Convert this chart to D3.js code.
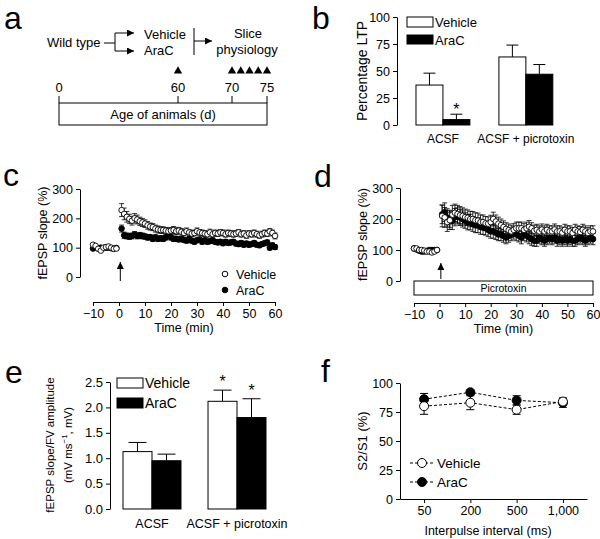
<!DOCTYPE html>
<html><head><meta charset="utf-8">
<script src="https://cdn.jsdelivr.net/npm/d3@7"></script>
<style>body{margin:0;background:#fff}svg{display:block;font-family:"Liberation Sans",Arial,Helvetica,sans-serif}</style>
</head><body><svg id="fig" width="600" height="539"></svg>
<script>
// ---------- DATA ----------
// panel a
const ageTicks = [0, 60, 70, 75];
const injectionDays = [60];
const recordingDays = [70, 71.25, 72.5, 73.75, 75];
// panel b
const groupsB = ["ACSF", "ACSF + picrotoxin"];
const seriesNames = ["Vehicle", "AraC"];
const ltpVehicle = [37, 63];
const ltpVehicleErr = [11, 11];
const ltpAraC = [5, 47];
const ltpAraCErr = [5, 9];
const ltpTicks = [0, 25, 50, 75, 100];
// panel c (ACSF)
const baseTimes = [-10, -9, -8, -7, -6, -5, -4, -3, -2, -1];
const postTimes = d3.range(1, 61);
const cVehBase = [110, 106, 96, 90, 100, 102, 104, 100, 96, 97];
const cAraBase = [97, 100, 98, 100, 98, 100, 100, 98, 97, 99];
const cVeh = [228, 215, 205, 198, 192, 200, 196, 190, 186, 182, 176, 172, 170, 165, 162, 160, 160, 158, 156, 158, 160, 156, 158, 154, 150, 156, 152, 148, 150, 156, 152, 150, 148, 146, 152, 146, 150, 148, 152, 150, 146, 150, 148, 146, 148, 152, 146, 148, 142, 148, 146, 150, 146, 142, 146, 150, 148, 155, 150, 140];
const cVehErr = [22, 20, 18, 16, 15, 16, 15, 14, 14, 13, 13, 12, 12, 12, 12, 11, 11, 11, 11, 11, 12, 11, 11, 11, 10, 11, 10, 10, 10, 11, 10, 10, 10, 10, 11, 10, 10, 10, 10, 10, 10, 10, 10, 10, 10, 10, 10, 10, 10, 10, 10, 10, 10, 10, 10, 10, 10, 10, 10, 10];
const cAra = [165, 142, 140, 138, 140, 145, 140, 142, 140, 138, 135, 136, 130, 135, 130, 132, 130, 135, 140, 135, 130, 130, 128, 130, 126, 124, 130, 124, 120, 125, 128, 120, 125, 120, 122, 125, 120, 118, 120, 115, 120, 116, 118, 120, 114, 112, 116, 110, 114, 110, 112, 116, 110, 108, 112, 115, 118, 100, 108, 102];
const cAraErr = [12, 11, 10, 10, 10, 10, 10, 10, 10, 9, 9, 9, 9, 9, 9, 9, 9, 9, 9, 9, 9, 9, 8, 8, 8, 8, 8, 8, 8, 8, 8, 8, 8, 8, 8, 8, 8, 8, 8, 8, 8, 8, 8, 8, 8, 8, 8, 8, 8, 8, 8, 8, 8, 8, 8, 8, 8, 8, 8, 8];
// panel d (picrotoxin)
const dVehBase = [105, 105, 100, 100, 98, 95, 95, 92, 95, 100];
const dAraBase = [105, 102, 98, 95, 95, 97, 100, 100, 100, 100];
const dVeh = [210, 205, 190, 196, 214, 220, 216, 212, 210, 206, 204, 200, 200, 196, 195, 190, 190, 186, 185, 190, 200, 192, 185, 180, 174, 168, 164, 160, 165, 170, 170, 170, 165, 170, 175, 170, 162, 165, 160, 166, 160, 165, 160, 160, 166, 160, 160, 156, 165, 160, 160, 155, 165, 160, 158, 165, 160, 155, 160, 160];
const dVehErr = [35, 32, 30, 30, 30, 28, 28, 28, 26, 26, 25, 25, 24, 24, 24, 23, 23, 22, 22, 22, 22, 21, 21, 20, 20, 20, 20, 20, 20, 20, 20, 20, 20, 20, 20, 18, 18, 18, 18, 18, 18, 18, 18, 18, 18, 18, 18, 18, 18, 18, 18, 18, 18, 18, 18, 18, 18, 18, 18, 18];
const dAra = [215, 222, 205, 200, 194, 206, 210, 205, 200, 195, 190, 190, 184, 180, 180, 175, 172, 170, 165, 160, 160, 156, 150, 150, 145, 140, 145, 150, 155, 150, 146, 140, 150, 146, 140, 135, 130, 130, 140, 135, 130, 135, 140, 135, 140, 130, 135, 130, 135, 130, 135, 130, 130, 135, 140, 135, 130, 135, 140, 135];
const dAraErr = [30, 30, 28, 28, 28, 28, 26, 26, 26, 25, 25, 25, 24, 24, 24, 24, 22, 22, 22, 22, 22, 22, 20, 20, 20, 20, 20, 20, 20, 20, 20, 20, 20, 20, 20, 20, 18, 18, 18, 18, 18, 18, 18, 18, 18, 18, 18, 18, 18, 18, 18, 18, 18, 18, 18, 18, 18, 18, 18, 18];
const slopeTicks = [0, 100, 200, 300];
const timeTicks = [-10, 0, 10, 20, 30, 40, 50, 60];
// panel e
const groupsE = ["ACSF", "ACSF + picrotoxin"];
const ratioVehicle = [1.13, 2.12];
const ratioVehicleErr = [0.18, 0.22];
const ratioAraC = [0.95, 1.8];
const ratioAraCErr = [0.13, 0.37];
const ratioTicks = [0, 0.5, 1, 1.5, 2, 2.5];
// panel f
const intervals = ["50", "200", "500", "1,000"];
const ppfVehicle = [80, 83, 77, 84];
const ppfVehicleErr = [7, 6, 4, 3];
const ppfAraC = [86, 92, 85, 83];
const ppfAraCErr = [5, 2, 4, 4];
const ppfTicks = [0, 25, 50, 75, 100];

// ---------- DRAW ----------
const svg = d3.select("#fig");
svg.append("rect").attr("width", 600).attr("height", 539).attr("fill", "#fff");
const defs = svg.append("defs");
defs.append("marker").attr("id", "ah").attr("viewBox", "0 0 8 8").attr("refX", 8).attr("refY", 4)
  .attr("markerWidth", 7).attr("markerHeight", 7).attr("markerUnits", "userSpaceOnUse").attr("orient", "auto")
  .append("path").attr("d", "M0,0L8,4L0,8Z").attr("fill", "#000");

function txt(x, y, s, fs, anchor, g) {
  return (g || svg).append("text").attr("x", x).attr("y", y).attr("font-size", fs)
    .attr("text-anchor", anchor || "start").attr("fill", "#000").text(s);
}
function letter(t, x, y) { txt(x, y, t, 32); }
function style(g, fs) {
  g.attr("font-family", null).attr("font-size", fs);
  g.selectAll("text").attr("fill", "#000");
  g.select(".domain").attr("stroke", "#000").attr("stroke-width", 1);
  g.selectAll(".tick line").attr("stroke", "#000");
  return g;
}
function ytitle(x, y, s, fs) {
  svg.append("text").attr("transform", `translate(${x},${y}) rotate(-90)`).attr("text-anchor", "middle")
    .attr("font-size", fs).attr("fill", "#000").text(s);
}
const minus = d => d < 0 ? "\u2212" + Math.abs(d) : String(d);

// ===== panel a =====
letter("a", 4, 29);
const ageX = d3.scaleLinear().domain(ageTicks).range([59, 178, 232, 267]);
txt(47, 47, "Wild type", 13);
svg.append("line").attr("x1", 104).attr("x2", 115).attr("y1", 43).attr("y2", 43).attr("stroke", "#000");
svg.append("line").attr("x1", 115).attr("x2", 115).attr("y1", 33).attr("y2", 51).attr("stroke", "#000");
[33, 51].forEach(y => svg.append("line").attr("x1", 115).attr("x2", 134).attr("y1", y).attr("y2", y)
  .attr("stroke", "#000").attr("marker-end", "url(#ah)"));
txt(144, 39, seriesNames[0], 13);
txt(144, 55, seriesNames[1], 13);
svg.append("line").attr("x1", 194).attr("x2", 194).attr("y1", 28).attr("y2", 55).attr("stroke", "#000");
svg.append("line").attr("x1", 194).attr("x2", 212).attr("y1", 41).attr("y2", 41).attr("stroke", "#000").attr("marker-end", "url(#ah)");
txt(248, 38, "Slice", 13, "middle");
txt(247, 54, "physiology", 13, "middle");
const tri = d3.symbol(d3.symbolTriangle).size(30);
svg.selectAll(".tri").data(injectionDays.concat(recordingDays)).join("path")
  .attr("d", tri).attr("transform", d => `translate(${ageX(d)},71)`).attr("fill", "#000");
svg.append("rect").attr("x", ageX(0)).attr("y", 103).attr("width", ageX(75) - ageX(0)).attr("height", 22)
  .attr("fill", "none").attr("stroke", "#000");
ageTicks.forEach(t => {
  svg.append("line").attr("x1", ageX(t)).attr("x2", ageX(t)).attr("y1", 96).attr("y2", 103).attr("stroke", "#000");
  txt(ageX(t), 92, String(t), 13, "middle");
});
txt((ageX(0) + ageX(75)) / 2, 119, "Age of animals (d)", 13, "middle");

// ===== bar chart helper =====
function barChart(o) {
  const y = d3.scaleLinear().domain(o.ydom).range(o.yr);
  const x0 = d3.scaleBand().domain(o.groups).range(o.xr).paddingInner(o.pi).paddingOuter(0.2);
  const x1 = d3.scaleBand().domain(seriesNames).range([0, x0.bandwidth()]);
  const ax = svg.append("g").attr("transform", `translate(${o.axisX},0)`)
    .call(d3.axisLeft(y).tickValues(o.ticks).tickSize(4).tickSizeOuter(0).tickFormat(o.fmt));
  style(ax, o.tfs);
  const vals = [o.veh, o.ara], errs = [o.vehErr, o.araErr];
  seriesNames.forEach((s, si) => {
    const g = svg.append("g");
    o.groups.forEach((grp, gi) => {
      const bx = x0(grp) + x1(s), bw = x1.bandwidth(), v = vals[si][gi], e = errs[si][gi];
      const cx = bx + bw / 2;
      g.append("line").attr("x1", cx).attr("x2", cx).attr("y1", y(v)).attr("y2", y(v + e)).attr("stroke", "#000");
      g.append("line").attr("x1", cx - o.cap).attr("x2", cx + o.cap).attr("y1", y(v + e)).attr("y2", y(v + e)).attr("stroke", "#000");
      g.append("rect").attr("x", bx).attr("y", y(v)).attr("width", bw).attr("height", y(0) - y(v))
        .attr("fill", si ? "#000" : "#fff").attr("stroke", "#000");
    });
  });
  o.groups.forEach(grp => txt(x0(grp) + x0.bandwidth() / 2, o.catY, grp, o.cfs, "middle"));
  return { x0, x1, y };
}

// ===== panel b =====
letter("b", 312, 29);
const b = barChart({ groups: groupsB, ydom: [0, 100], yr: [125, 17], xr: [399.4, 569.4], pi: 0.35, axisX: 397,
  ticks: ltpTicks, fmt: d3.format("d"), tfs: 12.5, veh: ltpVehicle, vehErr: ltpVehicleErr, ara: ltpAraC, araErr: ltpAraCErr,
  cap: 6, catY: 143, cfs: 12 });
txt(b.x0("ACSF") + b.x1("AraC") + b.x1.bandwidth() / 2, b.y(ltpAraC[0] + ltpAraCErr[0]) + 1, "*", 16, "middle");
ytitle(367, 71, "Percentage LTP", 14);
svg.append("rect").attr("x", 407).attr("y", 17).attr("width", 26).attr("height", 10).attr("fill", "#fff").attr("stroke", "#000");
svg.append("rect").attr("x", 407).attr("y", 35).attr("width", 26).attr("height", 9).attr("fill", "#000").attr("stroke", "#000");
txt(435, 27, "Vehicle", 13);
txt(435, 45, "AraC", 13);

// ===== time course helper =====
function timeCourse(o) {
  const x = d3.scaleLinear().domain([-10, 60]).range(o.xr);
  const y = d3.scaleLinear().domain([0, 300]).range(o.yr);
  style(svg.append("g").attr("transform", `translate(${o.axisX},0)`)
    .call(d3.axisLeft(y).tickValues(slopeTicks).tickSize(4).tickSizeOuter(0)), 12.5);
  style(svg.append("g").attr("transform", `translate(0,${o.axisY})`)
    .call(d3.axisBottom(x).tickValues(timeTicks).tickSize(4).tickSizeOuter(0).tickFormat(minus)), 12.5);
  txt((o.xr[0] + o.xr[1]) / 2, o.axisY + 30, "Time (min)", 12.5, "middle");
  ytitle(o.axisX - 33, (o.yr[0] + o.yr[1]) / 2, "fEPSP slope (%)", 12.5);
  const series = [
    { base: o.araBase, post: o.ara, err: o.araErr, fill: "#000" },
    { base: o.vehBase, post: o.veh, err: o.vehErr, fill: "#fff" }];
  const eg = svg.append("g").attr("stroke", "#000").attr("stroke-width", 0.8);
  series.forEach(s => {
    postTimes.forEach((t, i) => {
      const cx = x(t), hi = y(s.post[i] + s.err[i]), lo = y(s.post[i] - s.err[i]);
      eg.append("line").attr("x1", cx).attr("x2", cx).attr("y1", hi).attr("y2", lo);
      eg.append("line").attr("x1", cx - 2.5).attr("x2", cx + 2.5).attr("y1", hi).attr("y2", hi);
      eg.append("line").attr("x1", cx - 2.5).attr("x2", cx + 2.5).attr("y1", lo).attr("y2", lo);
    });
  });
  series.forEach(s => {
    const pts = baseTimes.map((t, i) => [t, s.base[i]]).concat(postTimes.map((t, i) => [t, s.post[i]]));
    svg.append("g").selectAll("circle").data(pts).join("circle")
      .attr("cx", d => x(d[0])).attr("cy", d => y(d[1])).attr("r", 2.8)
      .attr("fill", s.fill).attr("stroke", "#000").attr("stroke-width", 0.9);
  });
  // tetanus arrow
  svg.append("line").attr("x1", x(0.5)).attr("x2", x(0.5)).attr("y1", o.arrow[1]).attr("y2", o.arrow[0])
    .attr("stroke", "#000").attr("marker-end", "url(#ah)");
  return { x, y };
}

// ===== panel c =====
letter("c", 3, 186);
timeCourse({ xr: [93, 275], yr: [277, 189], axisX: 80, axisY: 302, vehBase: cVehBase, araBase: cAraBase,
  veh: cVeh, vehErr: cVehErr, ara: cAra, araErr: cAraErr, arrow: [262, 281] });
svg.append("circle").attr("cx", 225).attr("cy", 274).attr("r", 2.8).attr("fill", "#fff").attr("stroke", "#000");
svg.append("circle").attr("cx", 225).attr("cy", 290).attr("r", 2.8).attr("fill", "#000").attr("stroke", "#000");
txt(236, 279, "Vehicle", 12.5);
txt(236, 295, "AraC", 12.5);

// ===== panel d =====
letter("d", 314, 187);
const dd = timeCourse({ xr: [414, 593], yr: [281, 188], axisX: 400, axisY: 303, vehBase: dVehBase, araBase: dAraBase,
  veh: dVeh, vehErr: dVehErr, ara: dAra, araErr: dAraErr, arrow: [263, 279] });
svg.append("rect").attr("x", dd.x(-10)).attr("y", 281).attr("width", dd.x(60) - dd.x(-10)).attr("height", 14)
  .attr("fill", "#fff").attr("stroke", "#000");
txt((dd.x(-10) + dd.x(60)) / 2, 292, "Picrotoxin", 10.5, "middle");

// ===== panel e =====
letter("e", 5, 383);
const e = barChart({ groups: groupsE, ydom: [0, 2.5], yr: [509, 382], xr: [106, 283], pi: 0.318, axisX: 110,
  ticks: ratioTicks, fmt: d3.format(".1f"), tfs: 13, veh: ratioVehicle, vehErr: ratioVehicleErr, ara: ratioAraC, araErr: ratioAraCErr,
  cap: 9, catY: 528, cfs: 12.5 });
txt(e.x0(groupsE[1]) + e.x1("Vehicle") + e.x1.bandwidth() / 2, e.y(ratioVehicle[1] + ratioVehicleErr[1]) - 3, "*", 16, "middle");
txt(e.x0(groupsE[1]) + e.x1("AraC") + e.x1.bandwidth() / 2, e.y(ratioAraC[1] + ratioAraCErr[1]) - 3, "*", 16, "middle");
ytitle(54, 445, "fEPSP slope/FV amplitude", 11.5);
const t2 = svg.append("text").attr("transform", "translate(72,445) rotate(-90)").attr("text-anchor", "middle")
  .attr("font-size", 11.5).attr("fill", "#000");
t2.append("tspan").text("(mV ms");
t2.append("tspan").attr("dy", -5).attr("font-size", 8).text("\u22121");
t2.append("tspan").attr("dy", 5).text(", mV)");
svg.append("rect").attr("x", 117).attr("y", 378).attr("width", 26).attr("height", 10).attr("fill", "#fff").attr("stroke", "#000");
svg.append("rect").attr("x", 117).attr("y", 398).attr("width", 26).attr("height", 10).attr("fill", "#000").attr("stroke", "#000");
txt(145, 388, "Vehicle", 14);
txt(145, 408, "AraC", 14);

// ===== panel f =====
letter("f", 321, 382);
const fx = d3.scalePoint().domain(intervals).range([400, 587]).padding(0.52);
const fy = d3.scaleLinear().domain([0, 100]).range([499, 383]);
style(svg.append("g").attr("transform", "translate(400,0)")
  .call(d3.axisLeft(fy).tickValues(ppfTicks).tickSize(4).tickSizeOuter(0)), 12.5);
style(svg.append("g").attr("transform", "translate(0,499)")
  .call(d3.axisBottom(fx).tickSize(4).tickSizeOuter(0)), 12.5);
txt(488, 535, "Interpulse interval (ms)", 12.5, "middle");
ytitle(367, 441, "S2/S1 (%)", 13);
const ppf = [
  { v: ppfAraC, e: ppfAraCErr, fill: "#000" },
  { v: ppfVehicle, e: ppfVehicleErr, fill: "#fff" }];
ppf.forEach(s => {
  svg.append("path").datum(intervals.map((k, i) => [fx(k), fy(s.v[i])]))
    .attr("d", d3.line()).attr("fill", "none").attr("stroke", "#000").attr("stroke-dasharray", "3,2");
});
ppf.forEach(s => {
  intervals.forEach((k, i) => {
    const cx = fx(k), hi = fy(s.v[i] + s.e[i]), lo = fy(s.v[i] - s.e[i]);
    svg.append("line").attr("x1", cx).attr("x2", cx).attr("y1", hi).attr("y2", lo).attr("stroke", "#000");
    svg.append("line").attr("x1", cx - 4).attr("x2", cx + 4).attr("y1", hi).attr("y2", hi).attr("stroke", "#000");
    svg.append("line").attr("x1", cx - 4).attr("x2", cx + 4).attr("y1", lo).attr("y2", lo).attr("stroke", "#000");
  });
});
ppf.forEach(s => {
  svg.append("g").selectAll("circle").data(s.v).join("circle")
    .attr("cx", (d, i) => fx(intervals[i])).attr("cy", d => fy(d)).attr("r", 4.5)
    .attr("fill", s.fill).attr("stroke", "#000");
});
[["Vehicle", "#fff", 463], ["AraC", "#000", 482]].forEach(([n, f, y]) => {
  svg.append("line").attr("x1", 410).attr("x2", 434).attr("y1", y).attr("y2", y).attr("stroke", "#000").attr("stroke-dasharray", "3,2");
  svg.append("circle").attr("cx", 422).attr("cy", y).attr("r", 4.5).attr("fill", f).attr("stroke", "#000");
  txt(437, y + 5, n, 13.5);
});
</script></body></html>
